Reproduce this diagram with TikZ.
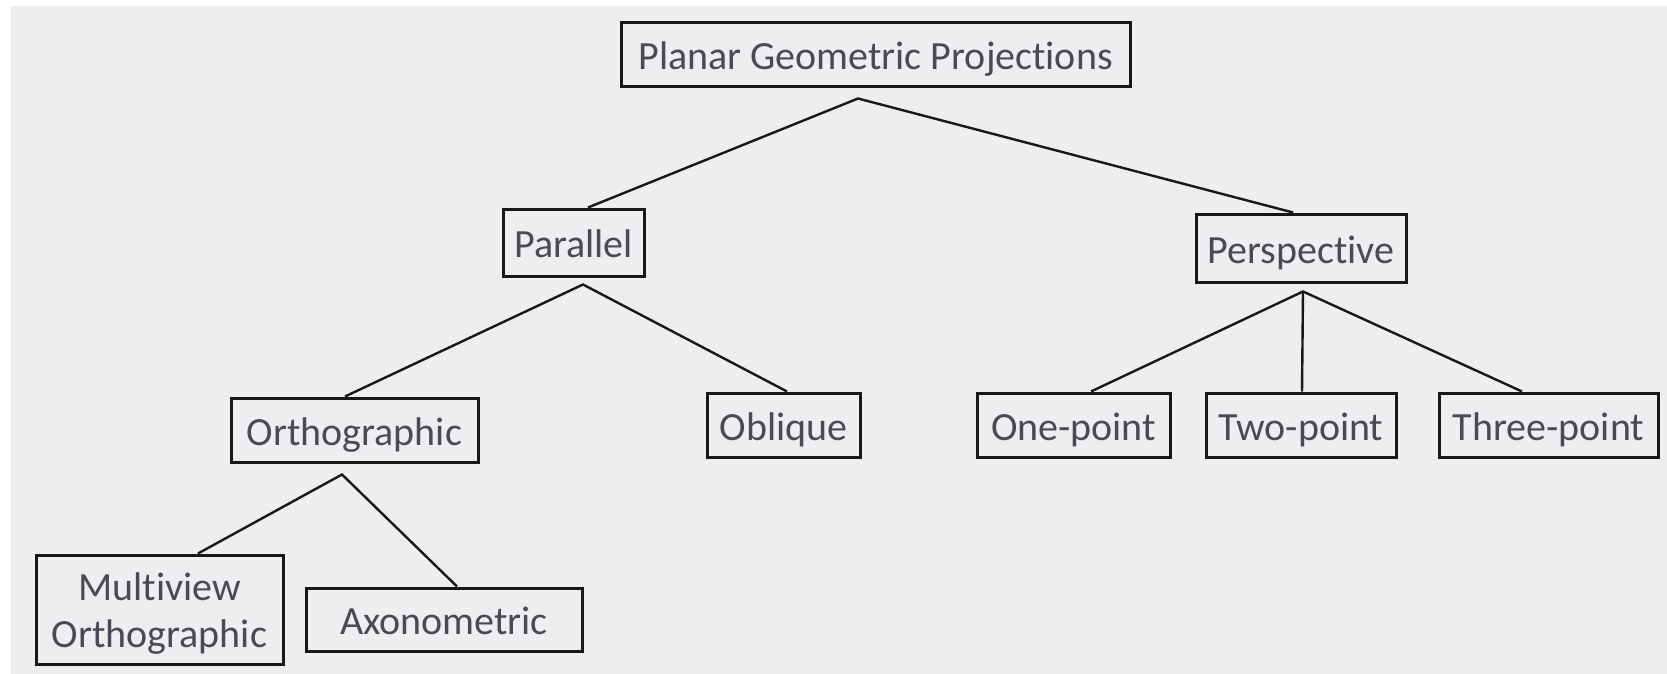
\documentclass[tikz,border=0pt]{standalone}
\usepackage{fontspec}
\setmainfont{Carlito}[Ligatures=NoCommon]
\usetikzlibrary{calc}
\definecolor{bgcol}{RGB}{237,238,240}
\definecolor{txtcol}{RGB}{74,74,84}
\definecolor{linecol}{RGB}{24,24,24}
\begin{document}
\begin{tikzpicture}[x=1pt,y=-1pt,
  box/.style={draw=linecol,line width=3pt,fill=bgcol,inner sep=0pt,
    text=txtcol,font=\fontsize{40}{47}\selectfont,
    text height=30pt,text depth=0pt},
  link/.style={draw=linecol,line width=2.4pt}]
\useasboundingbox (0,0) rectangle (1667,674);
\fill[white] (0,0) rectangle (1667,674);
\fill[bgcol] (11,6) rectangle (1667,674);

\node[box,minimum width=509pt,minimum height=64pt] (pgp) at (875.5,55) {Planar Geometric Projections};
\node[box,minimum width=141pt,minimum height=67pt] (par) at (573.5,242.5) {Parallel};
\node[box,minimum width=210pt,minimum height=68pt] (per) at (1301,248) {Perspective};
\node[box,minimum width=247pt,minimum height=64pt] (ort) at (354.5,430) {Orthographic};
\node[box,minimum width=153pt,minimum height=64pt] (obl) at (783.5,425) {Oblique};
\node[box,minimum width=193pt,minimum height=64pt] (one) at (1073.5,425) {One-point};
\node[box,minimum width=190pt,minimum height=64pt] (two) at (1301,425) {Two-point};
\node[box,minimum width=219pt,minimum height=64pt] (three) at (1548.5,425) {Three-point};
\node[box,minimum width=247pt,minimum height=109pt,align=center,text height=76pt,text depth=0pt] (mv) at (159.5,609.5) {Multiview\\Orthographic};
\node[box,minimum width=276pt,minimum height=63pt] (axo) at (444,619.5) {Axonometric};

\coordinate (pgpA) at ($(pgp.south)+(-17.5,10)$);
\coordinate (parA) at ($(par.south)+(9.5,7)$);
\coordinate (perA) at ($(per.south)+(2,8)$);
\coordinate (ortA) at ($(ort.south)+(-12.5,11)$);

\draw[link] ($(par.north)+(14.5,0)$) -- (pgpA) -- ($(per.north)+(-8,0)$);
\draw[link] ($(ort.north)+(-9.5,0)$) -- (parA) -- ($(obl.north)+(3.5,0)$);
\draw[link] ($(one.north)+(17.5,0)$) -- (perA) -- ($(three.north)+(-26.5,0)$);
\draw[link] (perA) -- ($(two.north)+(1,0)$);
\draw[link] ($(mv.north)+(38.5,0)$) -- (ortA) -- ($(axo.north)+(13,0)$);
\end{tikzpicture}
\end{document}
